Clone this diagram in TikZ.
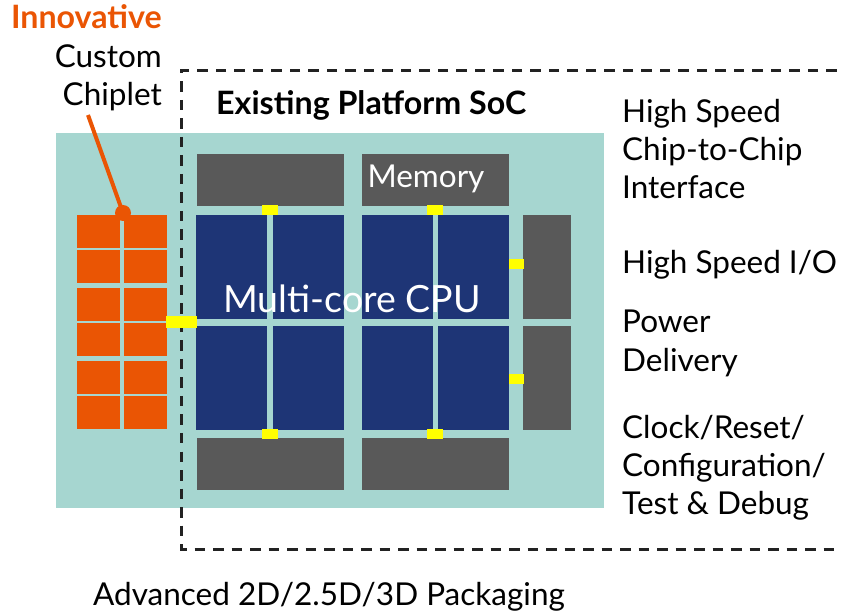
\documentclass[tikz,border=0pt]{standalone}
\usepackage{fontspec}
\setmainfont{Lato}
\definecolor{pkg}{HTML}{A6D6D0}
\definecolor{die}{HTML}{595959}
\definecolor{core}{HTML}{1E3576}
\definecolor{chip}{HTML}{EA5504}
\definecolor{pad}{HTML}{FFFF00}
\definecolor{ink}{HTML}{222222}
\newcommand{\regfont}{\fontsize{31.5}{38}\selectfont}
\newcommand{\boldfont}{\fontsize{32.2}{38}\selectfont\bfseries}
\tikzset{
  box/.style={inner sep=0pt, outer sep=0pt},
  label/.style={inner sep=0pt, anchor=base west, font=\regfont, text=black},
}
\begin{document}
\begin{tikzpicture}[x=1pt,y=-1pt]
\useasboundingbox (0,0) rectangle (841,612);
% package substrate
\fill[pkg] (56,133) rectangle (604,508);
% existing SoC outline
\draw[ink, line width=3pt, dash pattern=on 10.5pt off 8pt] (855,71) -- (181,71) -- (181,549) -- (855,549);
% gray dies (memory / I/O)
\fill[die] (197,154) rectangle (344,206);
\fill[die] (362,154) rectangle (509,206);
\fill[die] (197,438) rectangle (344,490);
\fill[die] (362,438) rectangle (509,490);
\fill[die] (523,215) rectangle (571,319);
\fill[die] (523,326) rectangle (571,430);
% CPU cores
\foreach \xa/\xb in {196/267, 273/344, 362/433, 438/509}{
  \fill[core] (\xa,215) rectangle (\xb,319);
  \fill[core] (\xa,326) rectangle (\xb,430);
}
% custom chiplet tiles
\foreach \ya/\yb in {215/248, 250/283, 288/321, 323/356, 361/394, 396/429}{
  \fill[chip] (77,\ya) rectangle (120,\yb);
  \fill[chip] (124,\ya) rectangle (167,\yb);
}
% die-to-die pads
\fill[pad] (262,205) rectangle (278,215);
\fill[pad] (427,205) rectangle (443,215);
\fill[pad] (262,429) rectangle (278,439);
\fill[pad] (427,429) rectangle (443,439);
\fill[pad] (509,259) rectangle (524,269);
\fill[pad] (509,374) rectangle (524,384);
\fill[pad] (166,316) rectangle (197,328);
% callout to the chiplet
\coordinate (tip) at (88,115);
\node[box, circle, fill=chip, minimum size=16pt] (dot) at (123,213) {};
\draw[chip, line width=4pt] (tip) -- (dot.center);
% titles
\node[inner sep=0pt, anchor=base east, font=\boldfont, text=chip] (innov) at (162,29) {Innovative};
\node[inner sep=0pt, anchor=base east, font=\regfont] (custom) at (162,68) {Custom};
\node[inner sep=0pt, anchor=base east, font=\regfont] (chiplet) at (162,106) {Chiplet};
\node[label, font=\boldfont] (soc) at (216,115) {Existing Platform SoC};
\node[inner sep=0pt, anchor=base, font=\regfont, text=white] (mem) at (426,188) {Memory};
\node[inner sep=0pt, anchor=base, font=\fontsize{37.5}{42}\selectfont, text=white] (cpu) at (352,313) {Multi-core CPU};
% interface list
\node[label] (l1) at (622,123) {High Speed};
\node[label] (l2) at (622,161) {Chip-to-Chip};
\node[label] (l3) at (622,199) {Interface};
\node[label] (l4) at (622,274) {High Speed I/O};
\node[label] (l5) at (622,333) {Power};
\node[label] (l6) at (622,371) {Delivery};
\node[label] (l7) at (622,438) {Clock/Reset/};
\node[label] (l8) at (622,476) {Configuration/};
\node[label] (l9) at (622,514) {Test \& Debug};
\node[inner sep=0pt, anchor=base, font=\regfont] (pkgl) at (329,605) {Advanced 2D/2.5D/3D Packaging};
\end{tikzpicture}
\end{document}
